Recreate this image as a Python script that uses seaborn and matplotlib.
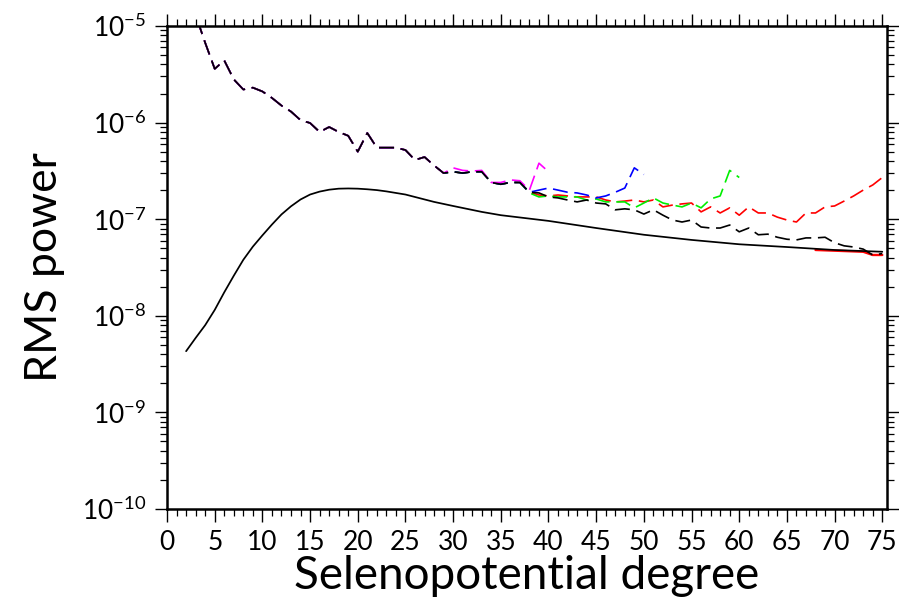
import numpy as np
import pandas as pd
import matplotlib
matplotlib.use("Agg")
import matplotlib.pyplot as plt
import seaborn as sns
from matplotlib.ticker import MultipleLocator, LogLocator, FixedLocator, NullFormatter

# ---------------- data ----------------
solid_deg = [2, 3, 4, 5, 6, 7, 8, 9, 10, 11, 12, 13, 14, 15, 16, 17, 18, 19, 20,
             21, 22, 23, 25, 28, 30, 33, 35, 40, 45, 50, 55, 60, 65, 70, 75]
solid_val = [4.3e-9, 5.9e-9, 8.0e-9, 1.15e-8, 1.75e-8, 2.6e-8, 3.8e-8, 5.2e-8, 6.8e-8,
             8.8e-8, 1.12e-7, 1.36e-7, 1.6e-7, 1.8e-7, 1.93e-7, 2.02e-7, 2.07e-7,
             2.08e-7, 2.07e-7, 2.04e-7, 2.0e-7, 1.94e-7, 1.8e-7, 1.51e-7, 1.37e-7,
             1.19e-7, 1.10e-7, 9.6e-8, 8.1e-8, 6.9e-8, 6.1e-8, 5.5e-8, 5.15e-8,
             4.8e-8, 4.6e-8]

black_deg = list(range(2, 76))
black_val = [3.0e-5, 1.3e-5, 6.7e-6, 3.6e-6, 4.4e-6, 2.8e-6, 2.2e-6, 2.3e-6, 2.1e-6,
             1.8e-6, 1.5e-6, 1.3e-6, 1.06e-6, 9.9e-7, 8.0e-7, 9.0e-7, 8.0e-7, 7.3e-7,
             5.0e-7, 7.8e-7, 5.5e-7, 5.5e-7, 5.5e-7, 5.2e-7, 4.1e-7, 4.4e-7, 3.6e-7,
             3.0e-7, 3.1e-7, 3.0e-7, 3.1e-7, 3.1e-7, 2.4e-7, 2.3e-7, 2.4e-7, 2.4e-7,
             1.9e-7, 1.87e-7, 1.70e-7, 1.66e-7, 1.58e-7, 1.51e-7, 1.58e-7, 1.47e-7,
             1.44e-7, 1.25e-7, 1.28e-7, 1.25e-7, 1.13e-7, 1.25e-7, 1.10e-7, 9.8e-8,
             9.35e-8, 9.8e-8, 8.3e-8, 8.1e-8, 8.1e-8, 8.7e-8, 7.4e-8, 8.1e-8, 6.9e-8,
             7.0e-8, 6.5e-8, 6.2e-8, 6.1e-8, 6.4e-8, 6.4e-8, 6.5e-8, 5.7e-8, 5.3e-8,
             5.15e-8, 4.9e-8, 4.26e-8, 4.4e-8]

# coloured models share the black dashed values at low degree, then diverge
magenta_deg = list(range(29, 41))
magenta_val = [3.0e-7, 3.4e-7, 3.2e-7, 3.15e-7, 3.2e-7, 2.4e-7, 2.4e-7, 2.55e-7,
               2.5e-7, 2.0e-7, 3.8e-7, 3.1e-7]

blue_deg = list(range(38, 51))
blue_val = [1.9e-7, 2.0e-7, 2.1e-7, 2.0e-7, 1.9e-7, 1.87e-7, 1.78e-7, 1.66e-7,
            1.74e-7, 1.9e-7, 2.1e-7, 3.4e-7, 2.9e-7]

green_deg = list(range(38, 61))
green_val = [1.87e-7, 1.70e-7, 1.74e-7, 1.70e-7, 1.70e-7, 1.70e-7, 1.58e-7, 1.62e-7,
             1.51e-7, 1.51e-7, 1.51e-7, 1.31e-7, 1.47e-7, 1.66e-7, 1.47e-7, 1.40e-7,
             1.34e-7, 1.47e-7, 1.31e-7, 1.62e-7, 1.74e-7, 3.2e-7, 2.7e-7]

red_deg = list(range(38, 76))
red_val = [1.9e-7, 1.78e-7, 1.74e-7, 1.78e-7, 1.74e-7, 1.70e-7, 1.70e-7, 1.70e-7,
           1.58e-7, 1.51e-7, 1.54e-7, 1.58e-7, 1.51e-7, 1.58e-7, 1.34e-7, 1.40e-7,
           1.44e-7, 1.47e-7, 1.19e-7, 1.34e-7, 1.16e-7, 1.31e-7, 1.10e-7, 1.34e-7,
           1.16e-7, 1.16e-7, 1.05e-7, 9.8e-8, 9.35e-8, 1.16e-7, 1.16e-7, 1.34e-7,
           1.37e-7, 1.54e-7, 1.74e-7, 2.0e-7, 2.26e-7, 2.7e-7]

red_low_deg = [68, 73, 74, 75]
red_low_val = [4.8e-8, 4.6e-8, 4.26e-8, 4.26e-8]

x_ticks = list(range(0, 80, 5))
y_ticks = [1e-10, 1e-9, 1e-8, 1e-7, 1e-6, 1e-5]
y_tick_labels = [r"$10^{-10}$", r"$10^{-9}$", r"$10^{-8}$", r"$10^{-7}$",
                 r"$10^{-6}$", r"$10^{-5}$"]

# ---------------- style ----------------
sns.set_theme(style="ticks")
FONT = "Lato"
plt.rcParams["font.family"] = [FONT, "DejaVu Sans"]
plt.rcParams["mathtext.fontset"] = "custom"
plt.rcParams["mathtext.rm"] = FONT
plt.rcParams["mathtext.it"] = FONT
plt.rcParams["mathtext.bf"] = FONT
plt.rcParams["text.color"] = "black"
plt.rcParams["axes.labelcolor"] = "black"

fig = plt.figure(figsize=(8.99, 6.10), dpi=100)
ax = fig.add_axes([0.1858, 0.1656, 0.8009, 0.7918])

def combine(base_deg, base_val, own_deg, own_val):
    d = [x for x in base_deg if x < own_deg[0]] + list(own_deg)
    v = [y for x, y in zip(base_deg, base_val) if x < own_deg[0]] + list(own_val)
    return pd.DataFrame({"degree": d, "power": v})

dash = (0, (9, 4))
lw = 1.2
series = [
    (combine(black_deg, black_val, red_deg, red_val), "#ff0000"),
    (combine(black_deg, black_val, green_deg, green_val), "#00ee00"),
    (combine(black_deg, black_val, blue_deg, blue_val), "#0000ff"),
    (combine(black_deg, black_val, magenta_deg, magenta_val), "#ff00ff"),
]
for df, col in series:
    sns.lineplot(data=df, x="degree", y="power", ax=ax, color=col, lw=lw,
                 linestyle=dash, estimator=None, sort=False)

sns.lineplot(x=red_low_deg, y=red_low_val, ax=ax, color="#ff0000", lw=1.7,
             estimator=None)
sns.lineplot(x=black_deg, y=black_val, ax=ax, color="black", lw=lw,
             linestyle=dash, estimator=None)
sns.lineplot(x=solid_deg, y=solid_val, ax=ax, color="black", lw=1.25,
             estimator=None)

ax.set_yscale("log")
ax.set_xlim(0, 75.5)
ax.set_ylim(1e-10, 1e-5)

ax.xaxis.set_major_locator(FixedLocator(x_ticks))
ax.xaxis.set_minor_locator(MultipleLocator(1))
ax.yaxis.set_major_locator(FixedLocator(y_ticks))
ax.set_yticklabels(y_tick_labels)
ax.yaxis.set_minor_locator(LogLocator(base=10, subs=np.arange(2, 10)))
ax.yaxis.set_minor_formatter(NullFormatter())

ax.tick_params(axis="both", which="both", direction="out", top=True, right=True,
               labeltop=False, labelright=False, color="black", labelcolor="black")
ax.tick_params(axis="both", which="major", length=9, width=1.0, labelsize=19, pad=6)
ax.tick_params(axis="both", which="minor", length=5, width=0.9)
for s in ax.spines.values():
    s.set_linewidth(1.8)
    s.set_color("black")

ax.set_xlabel("Selenopotential degree", fontsize=33, labelpad=0, color="black")
ax.set_ylabel("RMS power", fontsize=32, labelpad=12, color="black")

fig.savefig("out.png", dpi=100)
